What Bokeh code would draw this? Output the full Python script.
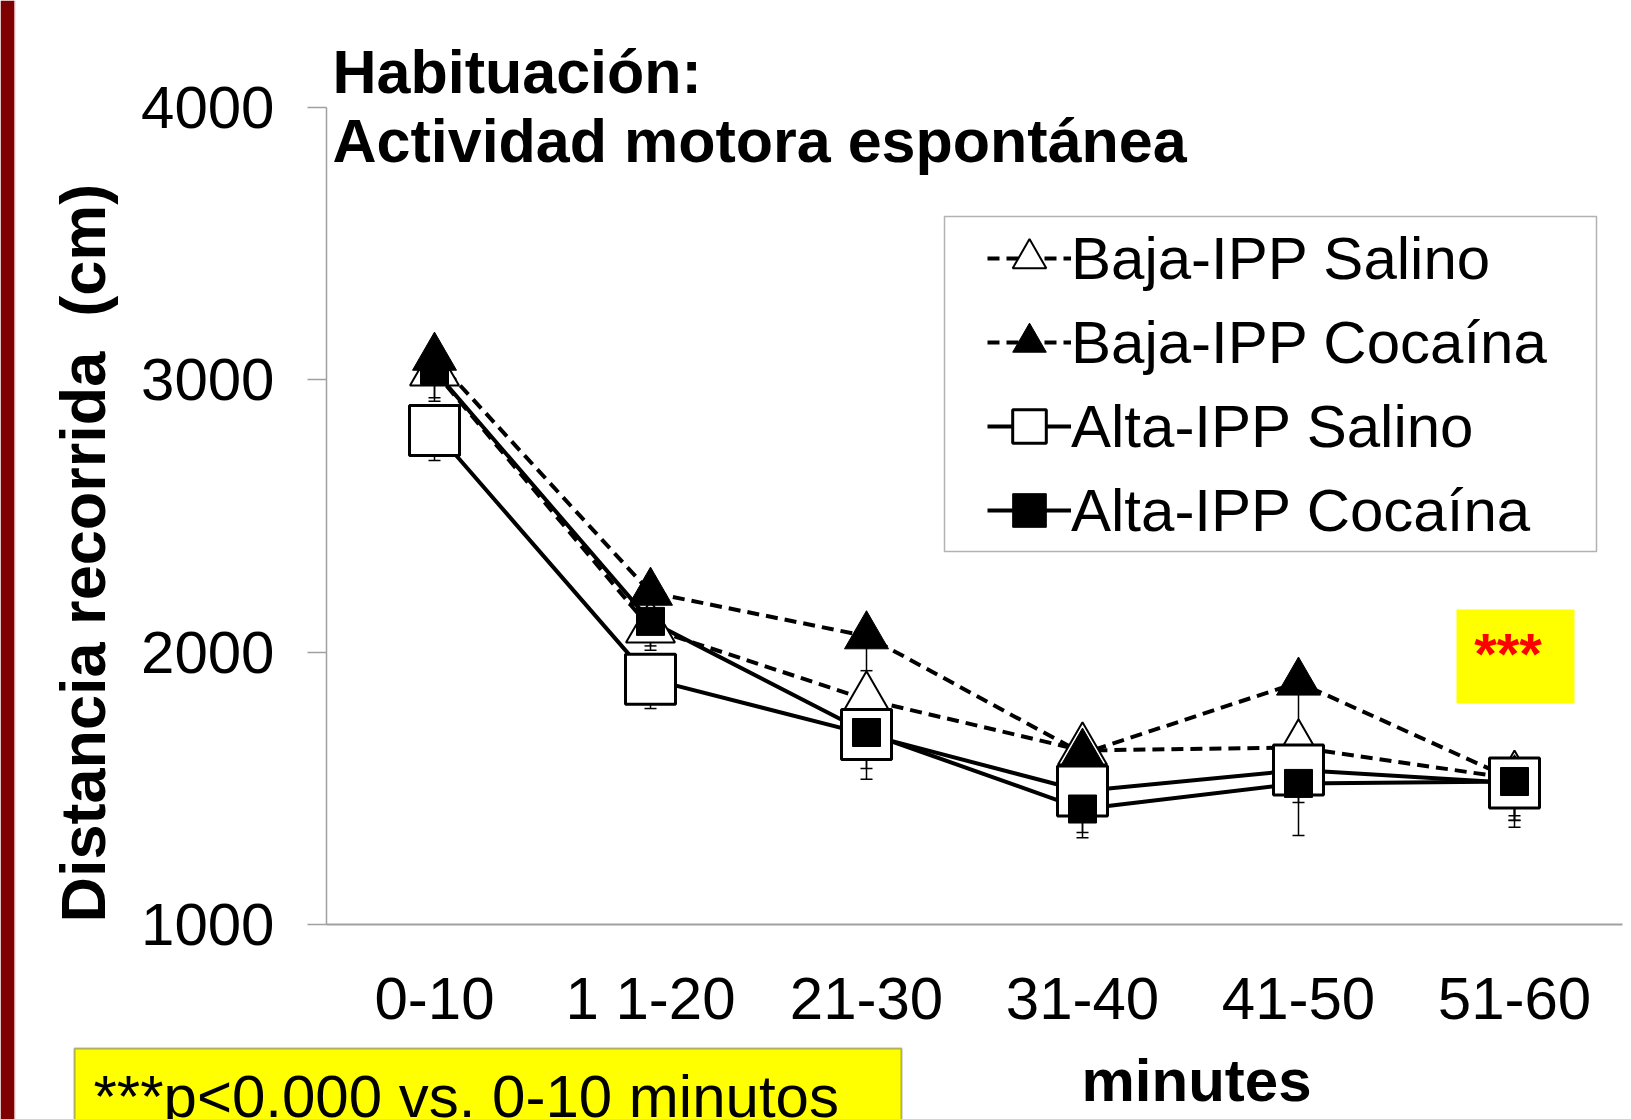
import math
from bokeh.plotting import figure
from bokeh.models import (ColumnDataSource, FactorRange, Range1d, Legend, LegendItem,
                          Label, BoxAnnotation, Whisker, TeeHead)
from bokeh.embed import file_html
from bokeh.resources import INLINE

# ---------------- data ----------------
cats = ["0-10", "1 1-20", "21-30", "31-40", "41-50", "51-60"]
y_ticks = [1000, 2000, 3000, 4000]

baja_salino = [3031, 2087, 1826, 1639, 1650, 1535]
baja_salino_err = [110, 80, 100, 90, 100, 136]
baja_cocaina = [3082, 2219, 2059, 1628, 1889, 1530]
baja_cocaina_err = [100, 90, 127, 90, 200, 147]
alta_salino = [2814, 1901, 1698, 1490, 1567, 1520]
alta_salino_err = [110, 108, 165, 152, 119, 163]
alta_cocaina = [3034, 2113, 1705, 1424, 1518, 1525]
alta_cocaina_err = [100, 90, 132, 105, 191, 143]

labels = ["Baja-IPP Salino", "Baja-IPP Cocaína", "Alta-IPP Salino", "Alta-IPP Cocaína"]
title_1 = "Habituación:"
title_2 = "Actividad motora espontánea"
y_title = "Distancia recorrida\u00a0 (cm)"
x_title = "minutes"
sig_mark = "***"
note = "***p<0.000 vs. 0-10 minutos"

# ---------------- layout ----------------
FONT = "Liberation Sans"
W, H = 1631, 1119
FL, FR, FT, FB = 326, 1622, 107, 924
TXT_SHIFT = 22   # text baseline correction

src = ColumnDataSource(dict(
    x=cats,
    bs=baja_salino, bs_lo=[v - e for v, e in zip(baja_salino, baja_salino_err)],
    bc=baja_cocaina, bc_lo=[v - e for v, e in zip(baja_cocaina, baja_cocaina_err)],
    al=alta_salino, al_lo=[v - e for v, e in zip(alta_salino, alta_salino_err)],
    ac=alta_cocaina, ac_lo=[v - e for v, e in zip(alta_cocaina, alta_cocaina_err)],
))

p = figure(width=W, height=H,
           x_range=FactorRange(factors=cats, range_padding=0),
           y_range=Range1d(1000, 4000),
           output_backend="svg", toolbar_location=None,
           min_border_left=FL, min_border_right=W - FR,
           min_border_top=FT, min_border_bottom=H - FB)
p.styles = {"position": "absolute", "left": "0px", "top": "0px"}
p.background_fill_color = "white"
p.border_fill_color = "white"
p.outline_line_color = None
p.xgrid.visible = False
p.ygrid.visible = False

AX = "#a0a0a0"
p.yaxis.ticker = y_ticks
p.yaxis.axis_line_color = AX
p.yaxis.axis_line_width = 1.5
p.yaxis.major_tick_line_color = AX
p.yaxis.major_tick_line_width = 1.5
p.yaxis.major_tick_out = 19
p.yaxis.major_tick_in = 0
p.yaxis.minor_tick_line_color = None
p.yaxis.major_label_text_font = FONT
p.yaxis.major_label_text_font_size = "60px"
p.yaxis.major_label_text_color = "black"
p.yaxis.major_label_standoff = 33

p.xaxis.axis_line_color = AX
p.xaxis.axis_line_width = 2
p.xaxis.major_tick_line_color = None
p.xaxis.minor_tick_line_color = None
p.xaxis.major_label_text_font = FONT
p.xaxis.major_label_text_font_size = "60px"
p.xaxis.major_label_text_color = "black"
p.xaxis.major_label_standoff = 34

# lines
LW = 4
DASH = "12 7"
l_bs = p.line("x", "bs", source=src, line_color="black", line_width=LW, line_dash=DASH)
l_bc = p.line("x", "bc", source=src, line_color="black", line_width=LW, line_dash=DASH)
l_al = p.line("x", "al", source=src, line_color="black", line_width=LW)
l_ac = p.line("x", "ac", source=src, line_color="black", line_width=LW)

# error bars (downward)
for up, lo in [("bs", "bs_lo"), ("bc", "bc_lo"), ("al", "al_lo"), ("ac", "ac_lo")]:
    w = Whisker(base="x", upper=up, lower=lo, source=src, dimension="height",
                line_color="black", line_width=1.5, upper_head=None,
                lower_head=TeeHead(size=12, line_color="black", line_width=1.5))
    p.add_layout(w)

# markers
s_bs = p.scatter("x", "bs", source=src, marker="triangle", size=49,
                 fill_color="white", line_color="black", line_width=2)
s_bc = p.scatter("x", "bc", source=src, marker="triangle", size=44,
                 fill_color="black", line_color="black", line_width=1)
s_al = p.scatter("x", "al", source=src, marker="square", size=50,
                 fill_color="white", line_color="black", line_width=3)
s_ac = p.scatter("x", "ac", source=src, marker="square", size=28,
                 fill_color="black", line_color="black", line_width=1)

# legend
legend = Legend(items=[LegendItem(label=labels[0], renderers=[l_bs, s_bs]),
                       LegendItem(label=labels[1], renderers=[l_bc, s_bc]),
                       LegendItem(label=labels[2], renderers=[l_al, s_al]),
                       LegendItem(label=labels[3], renderers=[l_ac, s_ac])],
                location=(661, 372), padding=0, margin=0, spacing=0,
                glyph_width=84, glyph_height=84, label_height=84, label_standoff=-3,
                label_text_font=FONT, label_text_font_size="60px",
                label_text_color="black",
                border_line_color=None, background_fill_alpha=0)
p.add_layout(legend)
p.add_layout(BoxAnnotation(left=618, right=1270, top=708, bottom=373,
                           left_units="screen", right_units="screen",
                           top_units="screen", bottom_units="screen",
                           fill_alpha=0, line_color="black", line_width=1.5))

# ---------------- overlay page for texts outside the plot frame ----------------
q = figure(width=W, height=H, x_range=Range1d(0, W), y_range=Range1d(0, H),
           x_axis_type=None, y_axis_type=None,
           output_backend="svg", toolbar_location=None,
           min_border_left=0, min_border_right=0, min_border_top=0, min_border_bottom=0)
q.styles = {"position": "absolute", "left": "0px", "top": "0px"}
q.background_fill_alpha = 0
q.border_fill_alpha = 0
q.outline_line_color = None
q.grid.visible = False


def box(left, right, top, bottom, **kw):
    q.add_layout(BoxAnnotation(left=left, right=right, top=H - top, bottom=H - bottom, **kw))


def text(x, y, s, size="60px", style="normal", color="black", align="left", angle=0.0):
    q.add_layout(Label(x=x, y=y, text=s, text_font=FONT, text_font_size=size,
                       text_font_style=style, text_color=color, text_align=align,
                       text_baseline="alphabetic", angle=angle))


# dark red strip at the left page edge
box(0, 14, 0, H, fill_color="#7f0000", fill_alpha=1, line_color=None)
box(14, 15, 0, H, fill_color="#e8c8c8", fill_alpha=1, line_color=None)

# titles
text(332, H - (93 - TXT_SHIFT), title_1, size="61px", style="bold")
text(332, H - (162 - TXT_SHIFT), title_2, size="61px", style="bold")
# y axis title (rotated)
text(104 - TXT_SHIFT, H - 922, y_title, size="63px", style="bold", angle=math.pi / 2)
# x axis title
text(1081, H - (1102 - TXT_SHIFT), x_title, style="bold")

# significance box
box(1456, 1574, 609, 703, fill_color="#ffff00", fill_alpha=1, line_color=None)
text(1507.5, H - (675 - TXT_SHIFT), sig_mark, size="58px", style="bold",
     color="#ff0000", align="center")

# bottom note box
box(74, 901, 1048, 1140, fill_color="#ffff00", fill_alpha=1,
    line_color="black", line_width=2)
text(93, H - (1118 - TXT_SHIFT), note)

roots = [p, q]
open("out.html", "w").write(file_html(roots, INLINE))
